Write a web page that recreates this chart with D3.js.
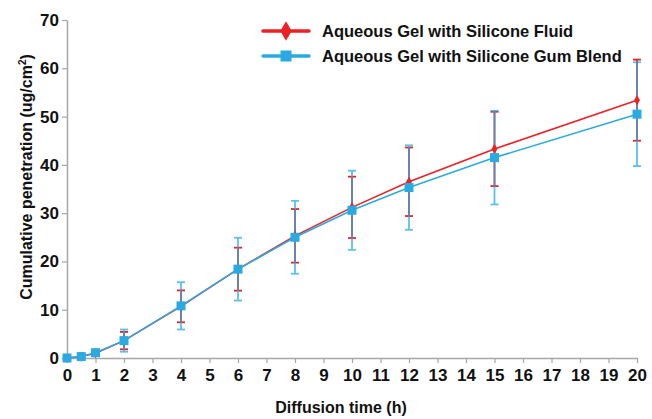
<!DOCTYPE html>
<html><head><meta charset="utf-8">
<script src="https://cdn.jsdelivr.net/npm/d3@7"></script>
<style>body{margin:0;background:#fff}svg{display:block}text{font-family:"Liberation Sans Narrow","Arial Narrow","Liberation Sans",Arial,sans-serif;font-weight:bold;fill:#111}</style>
</head><body><svg id="c" width="652" height="419"></svg>
<script>
const times = [0, 0.5, 1, 2, 4, 6, 8, 10, 12, 15, 20];
const fluid = [0, 0.3, 1.0, 3.6, 10.7, 18.4, 25.3, 31.2, 36.5, 43.3, 53.4];
const fluidSD = [0, 0.2, 0.6, 1.8, 3.3, 4.45, 5.55, 6.35, 7.1, 7.7, 8.4];
const gum = [0, 0.3, 1.1, 3.6, 10.8, 18.4, 25.0, 30.6, 35.3, 41.5, 50.5];
const gumSD = [0, 0.2, 0.6, 2.3, 4.9, 6.5, 7.55, 8.2, 8.75, 9.7, 10.75];
const xTicks = d3.range(0, 21, 1);
const yTicks = [0, 10, 20, 30, 40, 50, 60, 70];
const seriesNames = ["Aqueous Gel with Silicone Fluid", "Aqueous Gel with Silicone Gum Blend"];
const colors = ["#ed2024", "#29abe2"];

const svg = d3.select("#c");
const x = d3.scaleLinear().domain([0, 20]).range([67, 637]);
const y = d3.scaleLinear().domain([0, 70]).range([358, 20]);

// axes
const xAxis = svg.append("g").attr("transform", "translate(0,358)")
  .call(d3.axisBottom(x).tickValues(xTicks).tickSize(5).tickPadding(6).tickSizeOuter(0));
const yAxis = svg.append("g").attr("transform", "translate(67,0)")
  .call(d3.axisLeft(y).tickValues(yTicks).tickSize(5).tickPadding(3).tickSizeOuter(0));
[xAxis, yAxis].forEach(a => {
  a.select(".domain").attr("stroke", "#a6a6a6").attr("stroke-width", 1.5);
  a.selectAll(".tick line").attr("stroke", "#a6a6a6").attr("stroke-width", 1.2);
  a.selectAll(".tick text").attr("fill", "#111").style("font-size", "17px").style("font-weight", "bold")
   .style("font-family", '"Liberation Sans Narrow","Liberation Sans",Arial,sans-serif');
});

svg.append("text").attr("x", 341).attr("y", 413).attr("text-anchor", "middle")
  .style("font-size", "16px").text("Diffusion time (h)");
const yt = svg.append("text").attr("transform", "translate(32,177) rotate(-90)").attr("text-anchor", "middle")
  .style("font-size", "16px");
yt.append("tspan").text("Cumulative penetration (ug/cm");
yt.append("tspan").attr("dy", -6).style("font-size", "10px").text("2");
yt.append("tspan").attr("dy", 6).text(")");

const sets = [
  {v: fluid, sd: fluidSD, c: colors[0], op: 1},
  {v: gum, sd: gumSD, c: colors[1], op: 0.75}
];

// error bars
sets.forEach(s => {
  const g = svg.append("g").attr("stroke", s.c).attr("stroke-width", 1.8).attr("opacity", s.op);
  times.forEach((t, i) => {
    if (s.sd[i] <= 0) return;
    const x0 = x(t), y1 = y(s.v[i] + s.sd[i]), y2 = y(s.v[i] - s.sd[i]);
    g.append("line").attr("x1", x0).attr("x2", x0).attr("y1", y1).attr("y2", y2);
    g.append("line").attr("x1", x0 - 4).attr("x2", x0 + 4).attr("y1", y1).attr("y2", y1);
    g.append("line").attr("x1", x0 - 4).attr("x2", x0 + 4).attr("y1", y2).attr("y2", y2);
  });
});

// lines
const line = d3.line().x((d, i) => x(times[i])).y(d => y(d));
sets.forEach(s => {
  svg.append("path").datum(s.v).attr("d", line).attr("fill", "none")
    .attr("stroke", s.c).attr("stroke-width", 1.6);
});
// markers
svg.append("g").selectAll("path").data(fluid).join("path")
  .attr("d", d3.symbol(d3.symbolDiamond, 30))
  .attr("transform", (d, i) => `translate(${x(times[i])},${y(d)})`).attr("fill", colors[0]);
svg.append("g").selectAll("rect").data(gum).join("rect")
  .attr("x", (d, i) => x(times[i]) - 4.5).attr("y", d => y(d) - 4.5)
  .attr("width", 9).attr("height", 9).attr("fill", colors[1]);

// legend
const lg = svg.append("g");
[0, 1].forEach(k => {
  const ly = 31 + k * 25;
  lg.append("line").attr("x1", 263).attr("x2", 309).attr("y1", ly).attr("y2", ly)
    .attr("stroke", colors[k]).attr("stroke-width", 3.5).attr("stroke-linecap", "round");
  if (k === 0) lg.append("path").attr("d", d3.symbol(d3.symbolDiamond, 110)).attr("transform", `translate(286,${ly})`).attr("fill", colors[0]);
  else lg.append("rect").attr("x", 280.5).attr("y", ly - 5.5).attr("width", 11).attr("height", 11).attr("fill", colors[1]);
  lg.append("text").attr("x", 322).attr("y", ly + 6).style("font-size", "16.5px").text(seriesNames[k]);
});
</script></body></html>
